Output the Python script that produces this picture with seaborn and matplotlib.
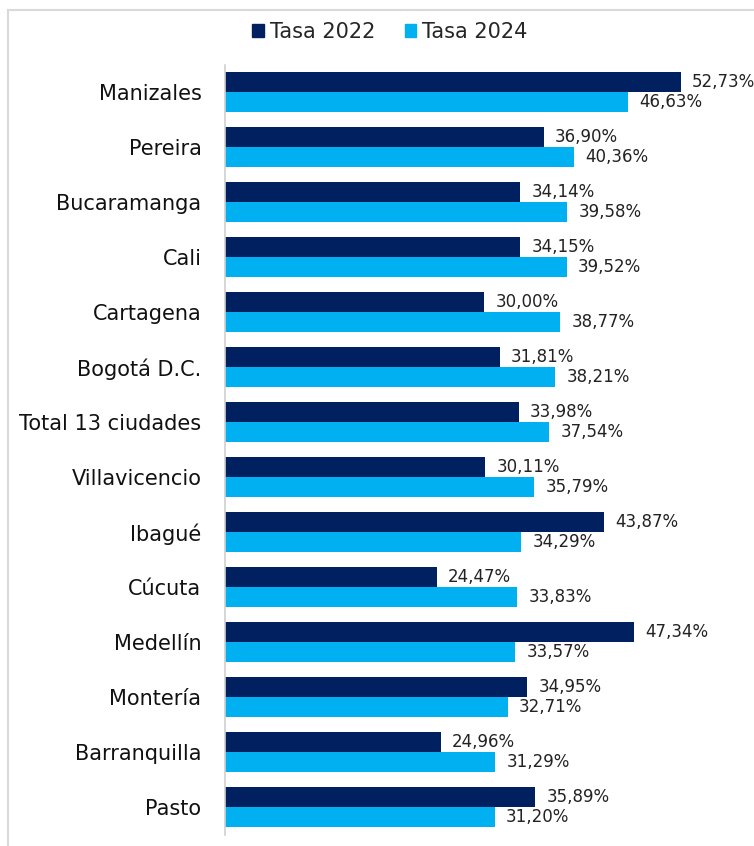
import pandas as pd
import seaborn as sns
from matplotlib import pyplot as plt
from matplotlib.patches import Rectangle

ciudades = ["Manizales", "Pereira", "Bucaramanga", "Cali", "Cartagena", "Bogotá D.C.",
            "Total 13 ciudades", "Villavicencio", "Ibagué", "Cúcuta", "Medellín",
            "Montería", "Barranquilla", "Pasto"]
tasa_2022 = [52.73, 36.90, 34.14, 34.15, 30.00, 31.81, 33.98, 30.11, 43.87, 24.47,
             47.34, 34.95, 24.96, 35.89]
tasa_2024 = [46.63, 40.36, 39.58, 39.52, 38.77, 38.21, 37.54, 35.79, 34.29, 33.83,
             33.57, 32.71, 31.29, 31.20]
series = ["Tasa 2022", "Tasa 2024"]
colores = ["#002060", "#00B0F0"]

df = pd.DataFrame({
	"ciudad": ciudades * 2,
	"serie": [series[0]] * len(ciudades) + [series[1]] * len(ciudades),
	"tasa": tasa_2022 + tasa_2024,
})

sns.set_style("white")
plt.rcParams["font.family"] = ["DejaVu Sans"]

fig = plt.figure(figsize = (7.54, 8.46), dpi = 100)
ax = fig.add_axes([225 / 754, 1 - 834.5 / 846, 1 - 225 / 754, (834.5 - 64.5) / 846])

sns.barplot(data = df, x = "tasa", y = "ciudad", hue = "serie", order = ciudades,
            hue_order = series, palette = colores, width = 0.72, saturation = 1,
            orient = "h", ax = ax, legend = False, linewidth = 0)

for cont in ax.containers:
	etiquetas = [f"{b.get_width():.2f}%".replace(".", ",") for b in cont]
	ax.bar_label(cont, labels = etiquetas, padding = 8, fontsize = 12, color = "#222222")

ax.set_xlim(0, 61.2)
ax.set_ylim(len(ciudades) - 0.5, -0.5)
ax.set_xlabel("")
ax.set_ylabel("")
ax.set_xticks([])
ax.tick_params(axis = "y", length = 0, labelsize = 15, pad = 17, labelcolor = "#111111")
for s in ["top", "right", "bottom"]:
	ax.spines[s].set_visible(False)
ax.spines["left"].set_color("#d0d0d0")
ax.spines["left"].set_linewidth(1.2)

# borde del area del grafico
fig.patches.append(Rectangle((8 / 754, -0.01), 1.0, 1 - 10 / 846 + 0.01, transform = fig.transFigure,
                             fill = False, edgecolor = "#d9d9d9", linewidth = 1.5))

handles = [Rectangle((0, 0), 1, 1, color = c) for c in colores]
fig.legend(handles, series, loc = "center", bbox_to_anchor = (390 / 754, 1 - 32 / 846),
           ncol = 2, frameon = False, fontsize = 15, handlelength = 0.55, handleheight = 0.55,
           handletextpad = 0.3, columnspacing = 1.4)

fig.savefig("out.png", dpi = 100)
